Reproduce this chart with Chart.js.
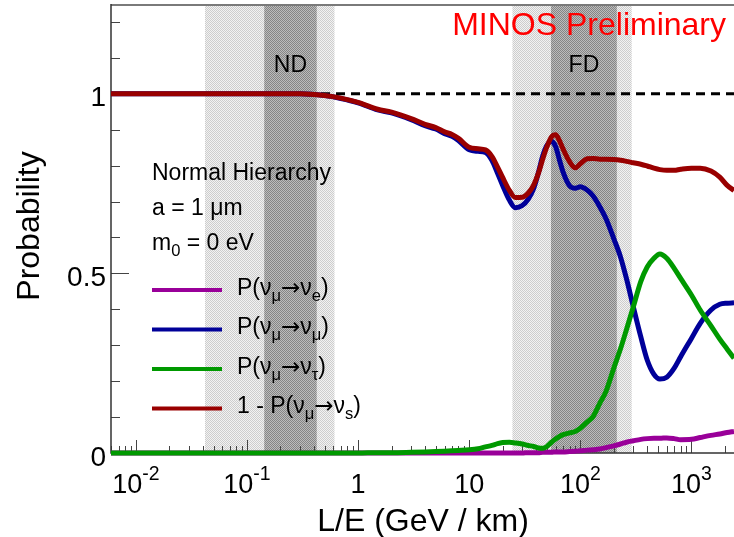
<!DOCTYPE html>
<html>
<head>
<meta charset="utf-8">
<script src="https://cdn.jsdelivr.net/npm/chart.js@4/dist/chart.umd.min.js"></script>
<style>
  html, body { margin: 0; padding: 0; background: #fff; }
  canvas { display: block; }
</style>
</head>
<body>
<canvas id="myChart" width="734" height="537"></canvas>
<script>
const leValues = [0.00597, 0.1, 0.3, 0.5, 0.7, 1, 1.5, 2, 3, 4, 5, 6, 7, 8, 10, 12, 14, 16, 18, 20,
  23, 26, 30, 34, 38, 42, 46, 50, 55, 60, 65, 70, 80, 90, 100, 115, 130, 150, 170, 200,
  230, 260, 300, 350, 400, 460, 520, 600, 700, 800, 1000, 1200, 1500, 1800, 2100, 2417];

// P(numu -> nue)
const probE = [0, 0, 0, 0, 0, 0, 0, 0, 0, 0, 0, 0, 0, 0, 0, 0, 0, 0, 0, 0,
  0, 0, 0, 0.001, 0.001, 0.001, 0.002, 0.002, 0.002, 0.003, 0.003, 0.003, 0.004, 0.005, 0.006, 0.008, 0.009, 0.011, 0.015, 0.020,
  0.025, 0.030, 0.034, 0.038, 0.040, 0.041, 0.041, 0.042, 0.040, 0.037, 0.038, 0.043, 0.049, 0.053, 0.057, 0.060];

// P(numu -> numu)
const probMu = [1, 1, 1, 0.995, 0.987, 0.975, 0.955, 0.947, 0.928, 0.911, 0.902, 0.889, 0.882, 0.870, 0.844, 0.840, 0.837, 0.815, 0.779, 0.745,
  0.704, 0.683, 0.689, 0.707, 0.736, 0.781, 0.828, 0.856, 0.868, 0.853, 0.815, 0.782, 0.744, 0.737, 0.741, 0.732, 0.716, 0.685, 0.653, 0.597,
  0.546, 0.486, 0.407, 0.324, 0.259, 0.219, 0.206, 0.211, 0.236, 0.268, 0.319, 0.361, 0.398, 0.414, 0.417, 0.418];

// P(numu -> nutau)
const probTau = [0, 0, 0, 0, 0, 0, 0.001, 0.001, 0.002, 0.003, 0.004, 0.005, 0.006, 0.007, 0.009, 0.012, 0.017, 0.021, 0.026, 0.029,
  0.030, 0.028, 0.025, 0.021, 0.018, 0.014, 0.013, 0.018, 0.030, 0.039, 0.046, 0.051, 0.056, 0.060, 0.069, 0.086, 0.101, 0.139, 0.171, 0.236,
  0.290, 0.343, 0.407, 0.477, 0.518, 0.542, 0.554, 0.542, 0.514, 0.486, 0.440, 0.398, 0.354, 0.317, 0.289, 0.264];

// 1 - P(numu -> nus)
const probActive = [1, 1, 1, 0.995, 0.988, 0.976, 0.957, 0.949, 0.931, 0.915, 0.906, 0.894, 0.887, 0.876, 0.851, 0.847, 0.844, 0.826, 0.796, 0.767,
  0.731, 0.711, 0.712, 0.724, 0.746, 0.779, 0.819, 0.852, 0.880, 0.886, 0.869, 0.846, 0.811, 0.794, 0.805, 0.819, 0.820, 0.818, 0.818, 0.817,
  0.815, 0.812, 0.808, 0.804, 0.799, 0.793, 0.789, 0.787, 0.787, 0.790, 0.793, 0.793, 0.785, 0.768, 0.745, 0.731];

// detector L/E ranges (outer band, inner core)
const ndBand = [0.0419, 0.613];
const ndCore = [0.143, 0.424];
const fdBand = [24.5, 290];
const fdCore = [54.5, 213];

const xMin = 0.00597, xMax = 2417;
const yMin = 0, yMax = 1.25;
const xMajor = [0.01, 0.1, 1, 10, 100, 1000];
const xTickLabels = ['10^-2', '10^-1', '1', '10', '10^2', '10^3'];
const yMajor = [0, 0.5, 1];
const yTickLabels = ['0', '0.5', '1'];
const yMinor = [0.1, 0.2, 0.3, 0.4, 0.6, 0.7, 0.8, 0.9, 1.1, 1.2];

const colors = { e: '#990099', mu: '#000099', tau: '#009900', active: '#990000' };
const FONT = "'Liberation Sans', Arial, Helvetica, sans-serif";
const ARROW_FONT = "'DejaVu Sans', sans-serif";

function toPoints(ys) {
    return leValues.map((x, i) => ({ x: x, y: ys[i] }));
}

function partFont(p, size) {
    const s = (p[1] === 'sub' || p[1] === 'sup') ? size * 0.72 : size;
    return s + 'px ' + (p[1] === 'arrow' ? ARROW_FONT : FONT);
}

// draw text made of normal / sub / sup / arrow pieces
function drawRuns(ctx, parts, x, y, size, align) {
    const widths = [];
    let total = 0;
    parts.forEach(p => {
        ctx.font = partFont(p, size);
        const w = ctx.measureText(p[0]).width;
        widths.push(w);
        total += w;
    });
    let cx = align === 'center' ? x - total / 2 : align === 'right' ? x - total : x;
    ctx.textAlign = 'left';
    ctx.textBaseline = 'alphabetic';
    parts.forEach((p, i) => {
        ctx.font = partFont(p, size);
        const dy = p[1] === 'sub' ? size * 0.27 : p[1] === 'sup' ? -size * 0.5 : 0;
        ctx.fillText(p[0], cx, y + dy);
        cx += widths[i];
    });
}

function tickParts(label) {
    const s = label.split('^');
    return s.length > 1 ? [[s[0]], [s[1], 'sup']] : [[s[0]]];
}

function checker(ctx, c1, c2) {
    const p = document.createElement('canvas');
    p.width = 2; p.height = 2;
    const g = p.getContext('2d');
    g.fillStyle = c1; g.fillRect(0, 0, 2, 2);
    g.fillStyle = c2; g.fillRect(0, 0, 1, 1); g.fillRect(1, 1, 1, 1);
    return ctx.createPattern(p, 'repeat');
}

// bands, frame and inward ticks under the curves
const backdrop = {
    id: 'backdrop',
    beforeDatasetsDraw(chart) {
        const { ctx, chartArea: a, scales: { x, y } } = chart;
        ctx.save();
        const light = checker(ctx, '#f2f2f2', '#cdcdcd');
        const dark = checker(ctx, '#bcbcbc', '#858585');
        [[ndBand, light], [fdBand, light], [ndCore, dark], [fdCore, dark]].forEach(([b, fill]) => {
            const x0 = x.getPixelForValue(b[0]), x1 = x.getPixelForValue(b[1]);
            ctx.fillStyle = fill;
            ctx.fillRect(x0, a.top, x1 - x0, a.bottom - a.top);
        });

        // x ticks (pointing up)
        ctx.strokeStyle = '#444';
        ctx.lineWidth = 1;
        ctx.beginPath();
        for (let d = -3; d <= 3; d++) {
            for (let m = 1; m <= 9; m++) {
                const v = m * Math.pow(10, d);
                if (v < xMin || v > xMax) continue;
                const px = Math.round(x.getPixelForValue(v)) + 0.5;
                const len = m === 1 ? 13 : 7;
                ctx.moveTo(px, a.bottom);
                ctx.lineTo(px, a.bottom - len);
            }
        }
        // y ticks (pointing right)
        yMajor.forEach(v => {
            const py = Math.round(y.getPixelForValue(v)) + 0.5;
            ctx.moveTo(a.left, py); ctx.lineTo(a.left + 18, py);
        });
        yMinor.forEach(v => {
            const py = Math.round(y.getPixelForValue(v)) + 0.5;
            ctx.moveTo(a.left, py); ctx.lineTo(a.left + 9, py);
        });
        ctx.stroke();

        // frame
        ctx.lineWidth = 2;
        ctx.strokeStyle = '#7a7a7a';
        ctx.beginPath();
        ctx.moveTo(a.left, a.top + 1); ctx.lineTo(a.right, a.top + 1);
        ctx.stroke();
        ctx.strokeStyle = '#333';
        ctx.lineWidth = 1.5;
        ctx.beginPath();
        ctx.moveTo(a.left, a.top); ctx.lineTo(a.left, a.bottom);
        ctx.lineTo(a.right, a.bottom);
        ctx.stroke();
        ctx.restore();
    },
    afterDraw(chart) {
        const { ctx, scales: { x, y } } = chart;
        ctx.save();
        ctx.fillStyle = '#000';

        // tick labels
        xMajor.forEach((v, i) => {
            drawRuns(ctx, tickParts(xTickLabels[i]), x.getPixelForValue(v), 493, 27, 'center');
        });
        yMajor.forEach((v, i) => {
            drawRuns(ctx, [[yTickLabels[i]]], 106, y.getPixelForValue(v) + 12.5, 28, 'right');
        });

        // axis titles
        drawRuns(ctx, [['L/E (GeV / km)']], 423, 531, 32, 'center');
        ctx.save();
        ctx.translate(39, 226);
        ctx.rotate(-Math.PI / 2);
        drawRuns(ctx, [['Probability']], 0, 0, 32, 'center');
        ctx.restore();

        // detector labels
        const mid = b => Math.sqrt(b[0] * b[1]);
        drawRuns(ctx, [['ND']], x.getPixelForValue(mid(ndCore)), 72, 23, 'center');
        drawRuns(ctx, [['FD']], x.getPixelForValue(mid(fdCore)), 72, 23, 'center');

        // preliminary tag
        ctx.fillStyle = '#ff0000';
        drawRuns(ctx, [['MINOS Preliminary']], 726, 35, 32, 'right');

        // legend block
        ctx.fillStyle = '#000';
        drawRuns(ctx, [['Normal Hierarchy']], 152, 180, 23, 'left');
        drawRuns(ctx, [['a = 1 \u03BCm']], 152, 215, 23, 'left');
        drawRuns(ctx, [['m'], ['0', 'sub'], [' = 0 eV']], 152, 250, 23, 'left');

        const entries = [
            [colors.e, [['P(\u03BD'], ['\u03BC', 'sub'], ['\u2192', 'arrow'], ['\u03BD'], ['e', 'sub'], [')']]],
            [colors.mu, [['P(\u03BD'], ['\u03BC', 'sub'], ['\u2192', 'arrow'], ['\u03BD'], ['\u03BC', 'sub'], [')']]],
            [colors.tau, [['P(\u03BD'], ['\u03BC', 'sub'], ['\u2192', 'arrow'], ['\u03BD'], ['\u03C4', 'sub'], [')']]],
            [colors.active, [['1 - P(\u03BD'], ['\u03BC', 'sub'], ['\u2192', 'arrow'], ['\u03BD'], ['s', 'sub'], [')']]]
        ];
        entries.forEach(([c, parts], i) => {
            const ly = 290 + i * 39.5;
            ctx.strokeStyle = c;
            ctx.lineWidth = 4;
            ctx.beginPath();
            ctx.moveTo(152, ly); ctx.lineTo(222, ly);
            ctx.stroke();
            ctx.fillStyle = '#000';
            drawRuns(ctx, parts, 237, ly + 4.5, 23, 'left');
        });
        ctx.restore();
    }
};

const curve = (label, ys, color, order) => ({
    label: label,
    data: toPoints(ys),
    borderColor: color,
    borderWidth: 5,
    pointRadius: 0,
    cubicInterpolationMode: 'monotone',
    fill: false,
    clip: 6,
    order: order
});

const ctx = document.getElementById('myChart').getContext('2d');
new Chart(ctx, {
    type: 'line',
    data: {
        datasets: [
            curve('1 - P(numu->nus)', probActive, colors.active, 1),
            curve('P(numu->nutau)', probTau, colors.tau, 2),
            curve('P(numu->numu)', probMu, colors.mu, 3),
            curve('P(numu->nue)', probE, colors.e, 4),
            {
                label: 'unity',
                data: [{ x: xMin, y: 1 }, { x: xMax, y: 1 }],
                borderColor: '#000',
                borderWidth: 3,
                borderDash: [9, 6],
                pointRadius: 0,
                order: 5
            }
        ]
    },
    options: {
        responsive: false,
        animation: false,
        layout: { padding: { left: 111, top: 4, right: 0, bottom: 84 } },
        plugins: { legend: { display: false }, tooltip: { enabled: false } },
        scales: {
            x: { type: 'logarithmic', min: xMin, max: xMax, display: false },
            y: { type: 'linear', min: yMin, max: yMax, display: false }
        }
    },
    plugins: [backdrop]
});
</script>
</body>
</html>
